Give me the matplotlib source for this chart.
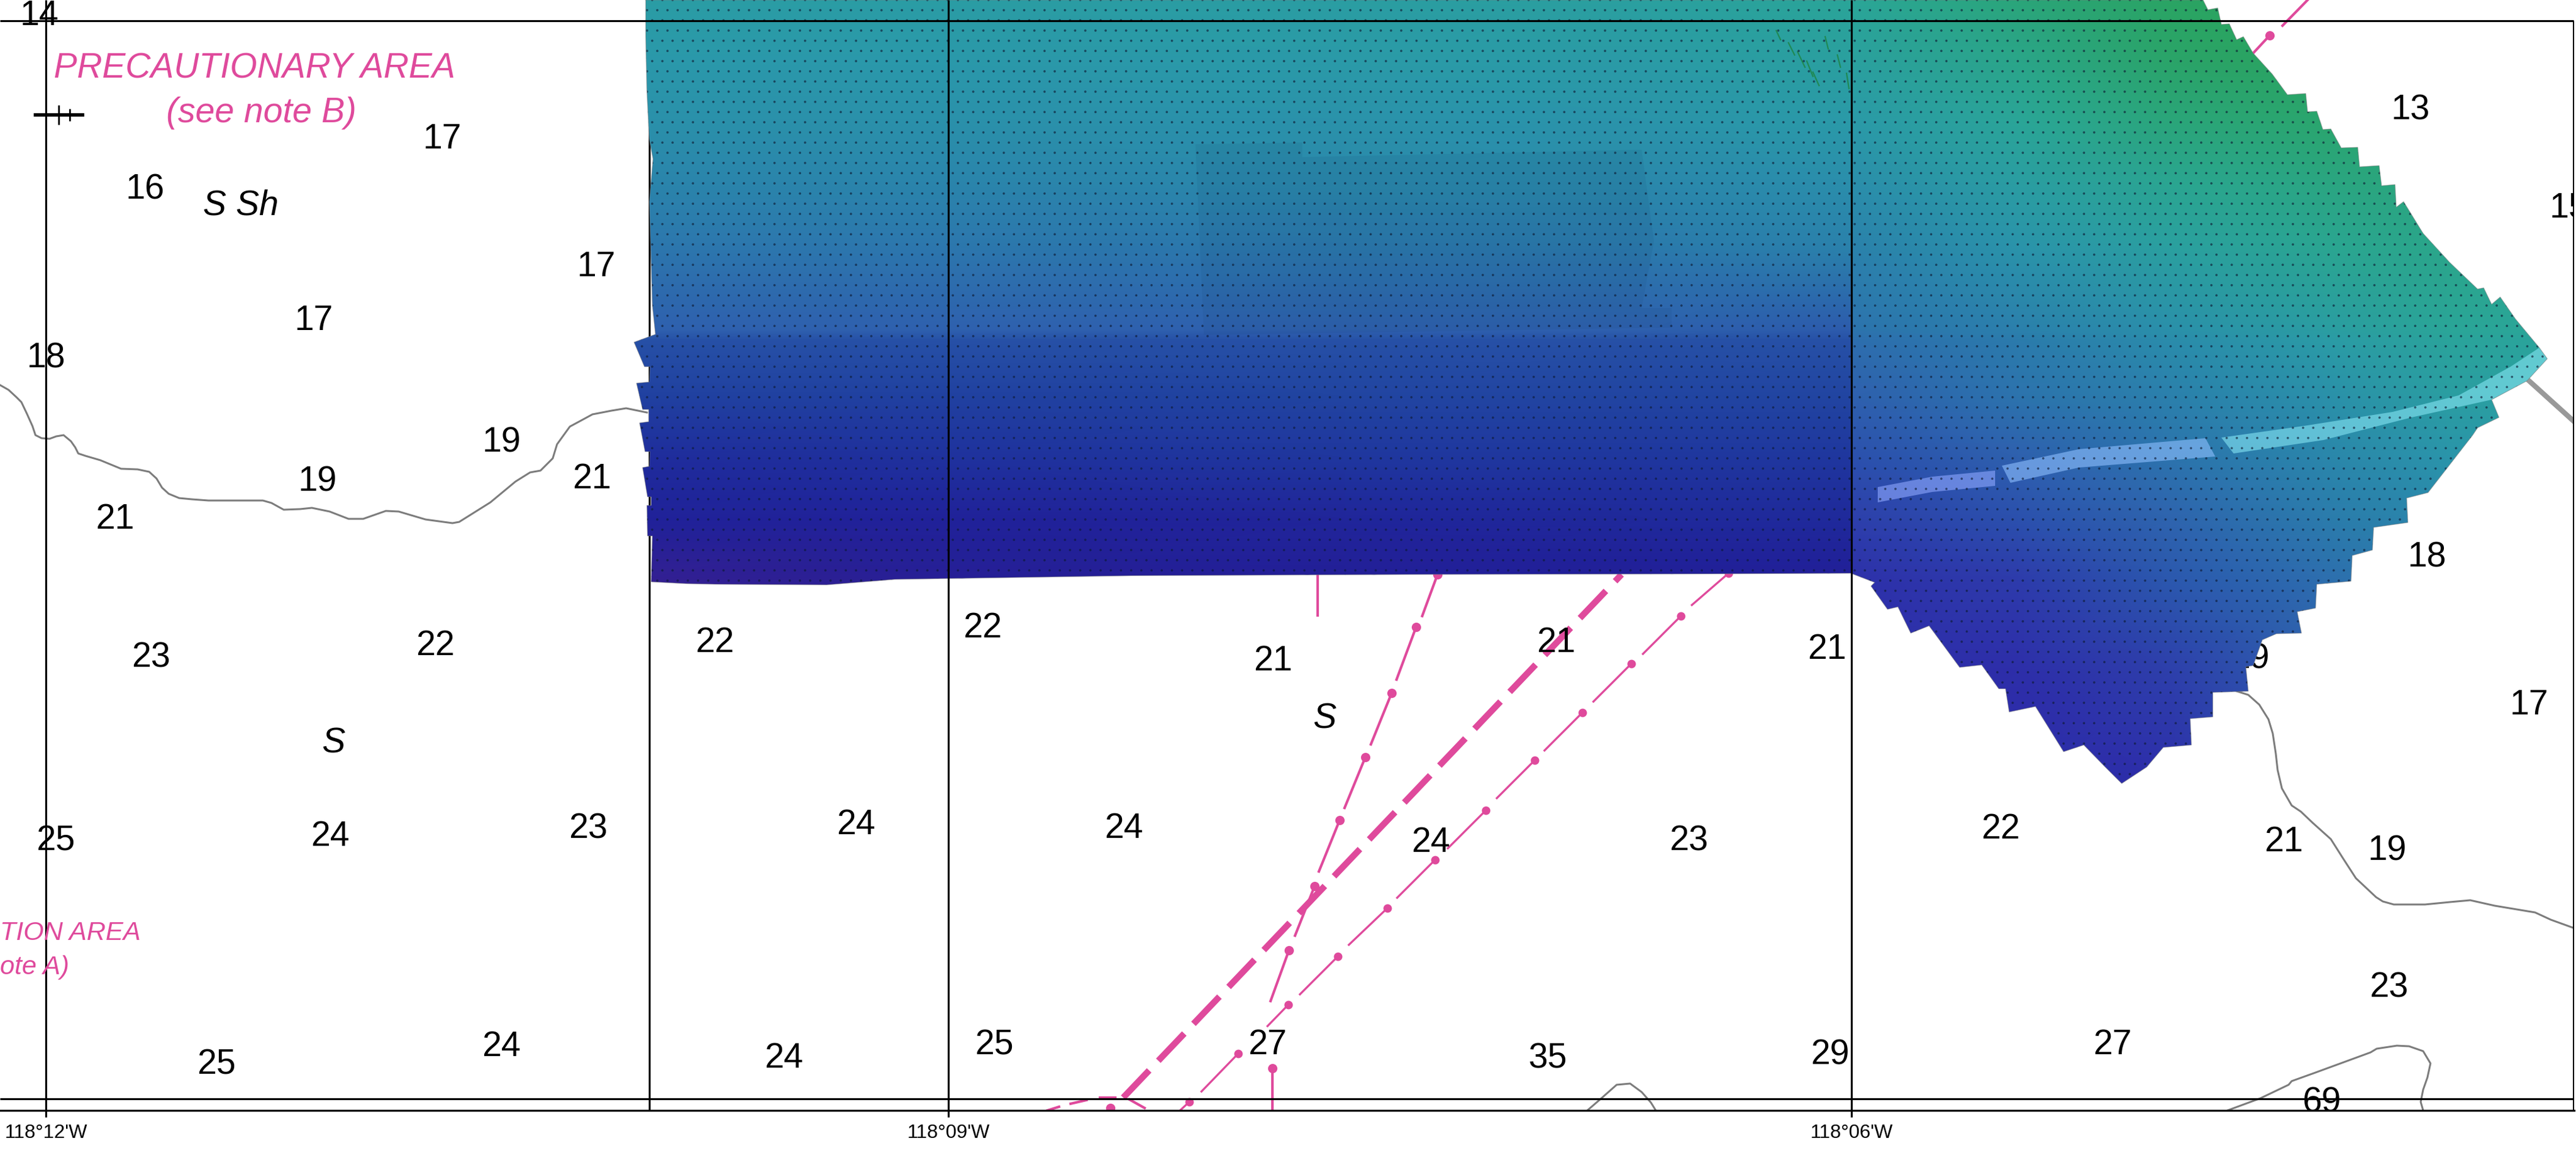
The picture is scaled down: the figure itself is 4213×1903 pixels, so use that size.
import matplotlib
matplotlib.use('Agg')
import matplotlib.pyplot as plt
from matplotlib.colors import LinearSegmentedColormap, Normalize
from matplotlib.patches import Polygon

# map positions are in chart units, x east and y south
grid_x = [75, 1551, 3028]
grid_y = [34, 1798]
frame_x = 4209
tick_labels = ["118°12'W", "118°09'W", "118°06'W"]

# survey outline, clockwise from the top left
outline_x = [1056, 3603, 3611, 3627, 3633, 3646, 3658, 3669, 3685, 3716, 3741, 3771, 3774, 3789, 3799, 3812,
             3829, 3856, 3859, 3891, 3895, 3917, 3919, 3931, 3963, 4006, 4052, 4062, 4075, 4089, 4114, 4153,
             4166, 4133, 4075, 4087, 4052, 4044, 3971, 3936, 3938, 3882, 3880, 3847, 3845, 3789, 3787, 3757,
             3764, 3723, 3700, 3685, 3673, 3677, 3619, 3619, 3582, 3584, 3538, 3511, 3470, 3441, 3408, 3375,
             3329, 3286, 3280, 3269, 3241, 3205, 3155, 3125, 3104, 3087, 3060, 3066, 3027, 2800, 2300, 1850,
             1463, 1352, 1170, 1122, 1065, 1067, 1059, 1058, 1065, 1065, 1059, 1051, 1062, 1063, 1055, 1046,
             1061, 1061, 1051, 1041, 1062, 1063, 1054, 1037, 1072, 1067, 1062, 1068, 1062, 1058, 1056, 1056]
outline_y = [0, 0, 16, 13, 40, 39, 65, 60, 87, 121, 155, 153, 183, 182, 212, 211,
             242, 241, 273, 271, 304, 302, 339, 330, 382, 429, 473, 471, 498, 486, 522, 569,
             587, 623, 654, 683, 700, 712, 806, 815, 855, 863, 900, 909, 951, 956, 995, 1001,
             1036, 1037, 1047, 1089, 1091, 1131, 1133, 1173, 1176, 1219, 1223, 1255, 1282, 1253, 1219, 1230,
             1156, 1165, 1127, 1127, 1088, 1092, 1024, 1036, 993, 997, 959, 953, 938, 939, 940, 942,
             948, 957, 956, 955, 952, 877, 877, 827, 827, 813, 813, 765, 763, 739, 739, 692,
             690, 670, 670, 627, 625, 600, 600, 560, 547, 500, 330, 260, 228, 150, 60, 0]

# colour index read across the surface, west block then east fan
west_x = [1030, 1551, 2200, 2700, 3028]
fan_x = [3028, 3300, 3550, 3800, 4000, 4190]
depth_y = [0, 100, 200, 300, 400, 540, 556, 650, 750, 850, 950, 1100, 1300]
west_rows = [[98.5, 98.5, 98, 97, 95],
             [100, 100, 99.5, 99, 97],
             [102, 102, 101.5, 101, 99.5],
             [105, 105, 104, 104, 102.5],
             [108, 108, 107.5, 107, 105.5],
             [113, 113, 113, 113, 114],
             [116, 116, 116, 116, 116],
             [120, 120, 119, 119, 119],
             [124, 123, 122, 122, 122],
             [127, 127, 126, 125, 125],
             [131, 129, 128.5, 128, 128],
             [132, 129, 129, 129, 129],
             [132, 129, 129, 129, 129]]
fan_rows = [[95, 91, 87, 85, 85, 85],
            [97, 93, 88, 86, 85, 85],
            [99.5, 95, 91, 89, 88, 88],
            [102.5, 98, 94, 92, 91, 91],
            [105.5, 101, 97, 94, 93, 93],
            [109, 106, 102, 98, 95, 95],
            [110, 107, 103, 99, 96, 96],
            [113, 109, 106, 102, 98, 97],
            [117, 113, 109, 104.5, 101, 99],
            [121, 117, 112, 107, 104, 102],
            [124.5, 122, 115, 110, 107, 105],
            [126, 125.5, 121, 113, 110, 108],
            [127, 127, 126, 117, 113, 110]]

depth_levels = [85, 90, 95, 100, 105, 110, 113, 116, 120, 124, 128, 132]
west_colors = ['#2aa35a', '#2aa574', '#2aa598', '#2a98aa', '#2a84ab', '#2d6eae',
               '#2e60ae', '#2650a6', '#2040a0', '#1f2c9c', '#201e98', '#3a2090']
fan_colors = ['#2aa35a', '#2aa574', '#2aa598', '#2a98aa', '#2a84ab', '#2d6eae',
              '#2e60ae', '#2a54ae', '#2c44ac', '#2e32aa', '#2c28a8', '#2c28a8']

# darker overlapping survey patch
patch_x = [1955, 2130, 2130, 2685, 2705, 2685, 2734, 2734, 1969]
patch_y = [236, 233, 257, 245, 395, 504, 504, 536, 548]

# pale swath across the fan
swath1_x = [3071, 3160, 3263, 3263, 3160, 3071]
swath1_y = [797, 780, 770, 795, 805, 822]
swath2_x = [3274, 3400, 3607, 3623, 3400, 3288]
swath2_y = [762, 735, 717, 747, 765, 790]
swath3_x = [3633, 3774, 3913, 4021, 4106, 4153, 4166, 4133, 4075, 3944, 3800, 3653]
swath3_y = [716, 696, 674, 647, 600, 569, 587, 623, 654, 683, 720, 742]

# rough bottom texture near the top of the block
rough_x0 = [2905, 2925, 2940, 2955, 2965, 2985, 3005, 3020]
rough_y0 = [50, 70, 85, 100, 118, 60, 90, 120]
rough_x1 = [2912, 2935, 2952, 2965, 2975, 2990, 3010, 3024]
rough_y1 = [65, 90, 110, 125, 140, 80, 110, 145]

# depth contours
contour_w_x = [0, 14, 27, 35, 44, 53, 58, 68, 81, 92, 104, 116, 123, 128, 140, 164, 198, 225, 244, 256, 265, 276,
               293, 314, 341, 430, 444, 464, 491, 510, 539, 570, 594, 631, 652, 696, 740, 751, 802, 843, 867, 884,
               904, 911, 932, 969, 1000, 1024, 1058]
contour_w_y = [630, 638, 650, 658, 677, 697, 712, 717, 718, 714, 712, 722, 732, 742, 746, 753, 767, 768, 772, 783,
               798, 808, 815, 817, 819, 819, 823, 834, 833, 831, 837, 849, 849, 836, 837, 850, 856, 854, 822, 788,
               773, 770, 750, 727, 698, 678, 672, 668, 675]
contour_e_x = [3658, 3677, 3695, 3710, 3717, 3722, 3725, 3732, 3748, 3763, 3783, 3812, 3831, 3853, 3886, 3897,
               3915, 3966, 4007, 4040, 4080, 4146, 4172, 4208]
contour_e_y = [1131, 1137, 1153, 1177, 1200, 1233, 1260, 1290, 1318, 1328, 1347, 1373, 1403, 1437, 1468, 1475,
               1480, 1480, 1476, 1473, 1482, 1493, 1505, 1518]
contour_se_x = [3643, 3697, 3743, 3748, 3787, 3877, 3887, 3920, 3940, 3963, 3975, 3970, 3963, 3959, 3963]
contour_se_y = [1817, 1797, 1775, 1769, 1755, 1722, 1716, 1711, 1712, 1720, 1740, 1763, 1783, 1803, 1817]
contour_s_x = [2596, 2618, 2644, 2666, 2685, 2700, 2708]
contour_s_y = [1817, 1798, 1775, 1773, 1787, 1804, 1817]
cable_x = [4125, 4209]
cable_y = [613, 689]

# traffic lanes: every dot has a dash running south west
lane_a_x = [1945, 2025, 2107, 2188, 2269, 2347, 2430, 2510, 2588, 2668, 2749, 2827]
lane_a_y = [1803, 1724, 1644, 1565, 1486, 1407, 1326, 1244, 1166, 1086, 1008, 938]
lane_a_end_x = [1930, 1965, 2073, 2126, 2206, 2285, 2368, 2448, 2526, 2606, 2687, 2767]
lane_a_end_y = [1817, 1786, 1679, 1627, 1546, 1469, 1388, 1306, 1228, 1148, 1070, 990]
lane_c_x = [2108, 2150, 2191, 2233, 2276, 2316, 2351]
lane_c_y = [1555, 1450, 1342, 1239, 1134, 1026, 940]
lane_c_end_x = [2078, 2118, 2157, 2199, 2242, 2284, 2326]
lane_c_end_y = [1638, 1531, 1426, 1322, 1218, 1112, 1008]
lane_b_x = [1837, 2652]
lane_b_y = [1796, 940]
lane_d_x = [3712, 2081, 1816]
lane_d_y = [58, 1748, 1813]
lane_d_end_x = [3685, 2081, 1816]
lane_d_end_y = [87, 1817, 1817]
lane_bits_x0 = [1713, 1751, 1799, 1847, 2155, 3774]
lane_bits_y0 = [1817, 1806, 1796, 1799, 940, 0]
lane_bits_x1 = [1732, 1777, 1824, 1872, 2155, 3733]
lane_bits_y1 = [1811, 1800, 1796, 1813, 1007, 42]

# soundings
sound_labels = ['14', '17', '16', '17', '17', '18', '19', '19', '21', '21', '23', '22', '22', '22', '21', '21',
                '21', '25', '24', '23', '24', '24', '24', '23', '22', '21', '19', '18', '17', '13', '15', '23',
                '27', '69', '29', '35', '27', '25', '24', '24', '25']
sound_x = [64, 723, 237, 975, 513, 75, 820, 519, 968, 188, 247, 712, 1169, 1607, 2082, 2545,
           2988, 91, 540, 962, 1400, 1838, 2340, 2762, 3272, 3735, 3904, 3969, 4136, 3942, 4201, 3907,
           3455, 3797, 2993, 2532, 2073, 1626, 1282, 820, 354]
sound_y = [26, 228, 310, 437, 525, 587, 724, 789, 784, 850, 1076, 1057, 1052, 1028, 1082, 1052,
           1063, 1377, 1369, 1356, 1350, 1356, 1379, 1377, 1357, 1378, 1393, 913, 1154, 180, 341, 1616,
           1710, 1804, 1726, 1732, 1710, 1710, 1732, 1713, 1743]
hidden_label = '19'
hidden_x = 3680
hidden_y = 1078

bottom_labels = ['S Sh', 'S', 'S']
bottom_x = [394, 545, 2166]
bottom_y = [337, 1216, 1176]

area_labels = ['PRECAUTIONARY AREA', '(see note B)', 'TION AREA', 'ote A)']
area_x = [416, 427, 0, 0]
area_y = [112, 185, 1527, 1583]
area_ha = ['center', 'center', 'left', 'left']
area_size = [41, 41, 31, 31]

wreck_x = [58, 135]
wreck_y = [188, 188]
wreck_tick_x = [96, 114]
wreck_tick_top = [172, 178]
wreck_tick_bottom = [204, 198]


BLACK = '#000000'
PINK = '#df4a9c'
GREY = '#7c7c7c'

plt.rcParams['font.family'] = ['Liberation Sans', 'DejaVu Sans']
plt.rcParams['hatch.linewidth'] = 0.25


def surface_cmap(name, colors):
    stops = [((v - 85) / 47, c) for v, c in zip(depth_levels, colors)]
    return LinearSegmentedColormap.from_list(name, stops)


fig = plt.figure(figsize=(42.13, 19.03), dpi=100)
ax = fig.add_axes([0, 86 / 1903, 4210 / 4213, 1817 / 1903])
ax.set_xlim(0, 4210)
ax.set_ylim(1817, 0)

for side in ['top', 'left', 'right']:
    ax.spines[side].set_visible(False)
ax.spines['bottom'].set_linewidth(2.3)
ax.set_yticks([])
ax.set_xticks(grid_x)
ax.set_xticklabels(tick_labels, fontsize=23)
ax.tick_params(axis='x', length=8, width=2.3, pad=8)

# things the survey surface lies on top of
ax.vlines(1062, 0, 1817, color=BLACK, lw=2.3, zorder=1)
for cx, cy in [(contour_w_x, contour_w_y), (contour_e_x, contour_e_y),
               (contour_se_x, contour_se_y), (contour_s_x, contour_s_y)]:
    ax.plot(cx, cy, color=GREY, lw=2.2, zorder=1)
ax.plot(cable_x, cable_y, color='#999999', lw=6, zorder=1)

for x0, y0, x1, y1 in zip(lane_a_x, lane_a_y, lane_a_end_x, lane_a_end_y):
    ax.plot([x0, x1], [y0, y1], color=PINK, lw=2.4, zorder=2)
ax.plot(lane_a_x, lane_a_y, 'o', color=PINK, ms=10, mew=0, zorder=2)
for x0, y0, x1, y1 in zip(lane_c_x, lane_c_y, lane_c_end_x, lane_c_end_y):
    ax.plot([x0, x1], [y0, y1], color=PINK, lw=3, zorder=2)
ax.plot(lane_c_x, lane_c_y, 'o', color=PINK, ms=11, mew=0, zorder=2)
for x0, y0, x1, y1 in zip(lane_d_x, lane_d_y, lane_d_end_x, lane_d_end_y):
    ax.plot([x0, x1], [y0, y1], color=PINK, lw=3, zorder=2)
ax.plot(lane_d_x, lane_d_y, 'o', color=PINK, ms=11, mew=0, zorder=2)
for x0, y0, x1, y1 in zip(lane_bits_x0, lane_bits_y0, lane_bits_x1, lane_bits_y1):
    ax.plot([x0, x1], [y0, y1], color=PINK, lw=3, zorder=2)
ax.plot(lane_b_x, lane_b_y, color=PINK, lw=7.5, linestyle=(0, (5.9, 2.1)), dash_capstyle='butt', zorder=2)

ax.text(hidden_x, hidden_y, hidden_label, fontsize=41, ha='center', va='center', zorder=2)

# survey surface
outline = list(zip(outline_x, outline_y))
clip = Polygon(outline, closed=True, transform=ax.transData, fc='none', ec='none')
ax.add_patch(clip)
west_mesh = ax.pcolormesh(west_x, depth_y, west_rows, shading='gouraud',
                          cmap=surface_cmap('west', west_colors), norm=Normalize(85, 132), zorder=3)
fan_mesh = ax.pcolormesh(fan_x, depth_y, fan_rows, shading='gouraud',
                         cmap=surface_cmap('fan', fan_colors), norm=Normalize(85, 132), zorder=3)
west_mesh.set_clip_path(clip)
fan_mesh.set_clip_path(clip)

ax.fill(patch_x, patch_y, color='#123a66', alpha=0.09, lw=0, zorder=3.1)
ax.fill(swath1_x, swath1_y, color='#8fa8ff', alpha=0.6, lw=0, zorder=3.2)
ax.fill(swath2_x, swath2_y, color='#8fc0ff', alpha=0.6, lw=0, zorder=3.2)
ax.fill(swath3_x, swath3_y, color='#86e6f4', alpha=0.6, lw=0, zorder=3.2)
for x0, y0, x1, y1 in zip(rough_x0, rough_y0, rough_x1, rough_y1):
    ax.plot([x0, x1], [y0, y1], color='#1f8a55', lw=1.6, zorder=3.3)

# the tiny surveyed soundings read as a fine speckle
ax.add_patch(Polygon(outline, closed=True, fill=False, hatch='.', ec=(0.05, 0.1, 0.2, 0.62), lw=0, zorder=3.4))
ax.plot(outline_x + outline_x[:1], outline_y + outline_y[:1], color=GREY, lw=0.8, alpha=0.55, zorder=3.5)

# grid
ax.hlines(grid_y, 0, frame_x, color=BLACK, lw=2.3, zorder=5)
ax.vlines(grid_x, 0, 1817, color=BLACK, lw=2.3, zorder=5)
ax.vlines(frame_x, 34, 1817, color=BLACK, lw=2.3, zorder=5)
ax.plot(wreck_x, wreck_y, color=BLACK, lw=4, zorder=5)
ax.vlines(wreck_tick_x, wreck_tick_top, wreck_tick_bottom, color=BLACK, lw=2, zorder=5)

for label, x, y in zip(sound_labels, sound_x, sound_y):
    ax.text(x, y, label, fontsize=41, ha='center', va='center', zorder=6, clip_on=True)
for label, x, y in zip(bottom_labels, bottom_x, bottom_y):
    ax.text(x, y, label, fontsize=41, style='italic', ha='center', va='center', zorder=6)
for label, x, y, ha, size in zip(area_labels, area_x, area_y, area_ha, area_size):
    ax.text(x, y, label, fontsize=size, style='italic', color=PINK, ha=ha, va='center', zorder=6)

fig.savefig('out.png', dpi=100)
